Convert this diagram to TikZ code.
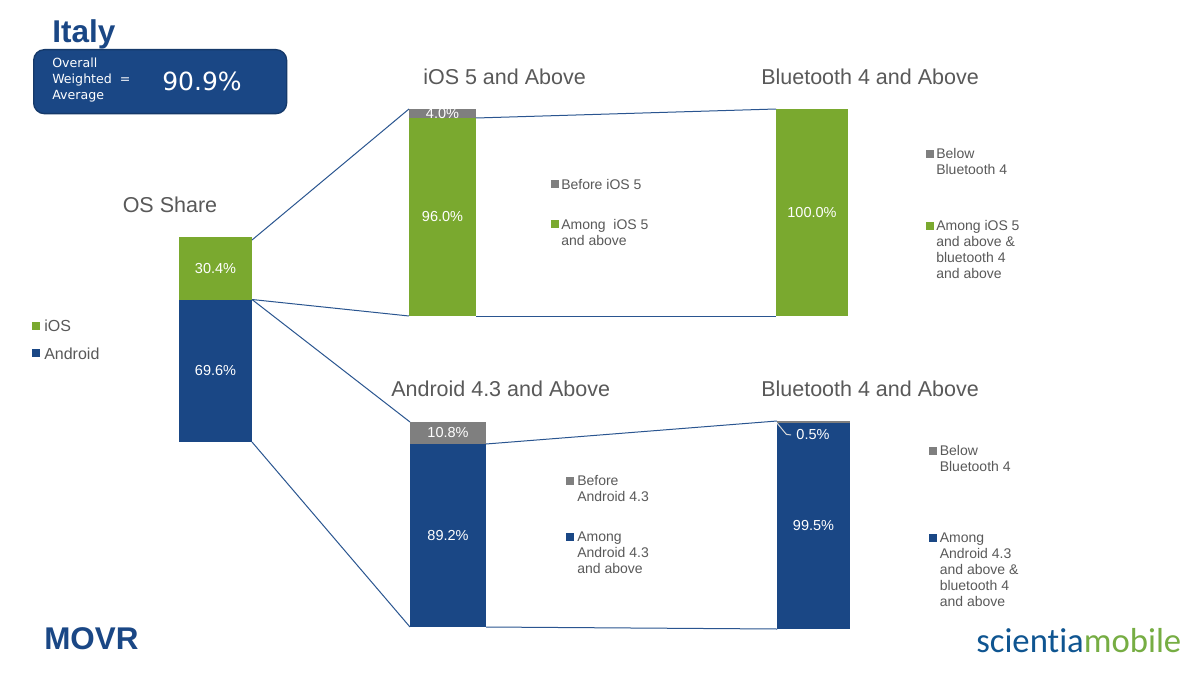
\documentclass[tikz,border=0pt]{standalone}
\usepackage{fontspec}
\setmainfont{Liberation Sans}
\newfontfamily\boxfont{DejaVu Sans}
\newfontfamily\logofont[Ligatures=NoCommon]{Carlito}
\definecolor{mblue}{HTML}{1A4785}
\definecolor{mgreen}{HTML}{7AA92F}
\definecolor{mgray}{HTML}{7F7F7F}
\definecolor{mtext}{HTML}{595959}
\definecolor{mline}{HTML}{2A5590}
\definecolor{lblue}{HTML}{0F5591}
\definecolor{lgreen}{HTML}{76AD43}
\newcommand{\px}[1]{\fontsize{\dimexpr#1pt*3/4\relax}{12pt}\selectfont}
\tikzset{
  x=0.75pt,y=-0.75pt,
  seg/.style={rectangle,draw=none,inner sep=0pt,outer sep=0pt,anchor=north west,text=white,font=\px{14.5}},
  head/.style={text=mtext,font=\px{21.5},inner sep=0pt,anchor=base west},
  leg/.style={text=mtext,font=\px{14},inner sep=0pt,anchor=north west,align=left},
  swatch/.style={rectangle,draw=none,inner sep=0pt,outer sep=0pt,minimum size=6pt*0.9,anchor=center},
  link/.style={draw=mline,line width=0.75pt},
}
\newcommand{\seg}[7]{\node[seg,fill=#2,minimum width=#5*0.75pt,minimum height=#6*0.75pt] (#1) at (#3,#4) {\raisebox{-0.75pt}{#7}};}
\begin{document}
\begin{tikzpicture}
\useasboundingbox (0,0) rectangle (1196,674);
\fill[white] (0,0) rectangle (1196,674);

% title and summary box
\node[inner sep=0pt,anchor=base west,text=mblue,font=\px{31.5}\bfseries] (title) at (52,43) {Italy};
\node[rectangle,rounded corners=8pt,draw=mblue!80!black,line width=1pt,fill=mblue,anchor=north west,minimum width=253*0.75pt,minimum height=64*0.75pt,inner sep=0pt] (box) at (33,49) {};
\node[inner sep=0pt,anchor=north west,align=left,text=white,font=\boxfont\px{12.6}] (boxl) at (52,58) {Overall\\Weighted\ \ =\\Average};
\node[inner sep=0pt,anchor=base west,text=white,font=\boxfont\px{25}] (boxv) at (162,90) {90.9\%};

% stacked bars
\seg{osi}{mgreen}{179}{237}{73}{62.5}{30.4\%}
\seg{osa}{mblue}{179}{299.5}{73}{142.5}{69.6\%}
\seg{igreen}{mgreen}{409}{118}{67}{198}{96.0\%}
\seg{igray}{mgray}{409}{109}{67}{9}{}
\node[inner sep=0pt,text=white,font=\px{14.5}] (ilabel) at (442.5,114) {4.0\%};
\seg{bi}{mgreen}{776}{109}{72}{207}{\raisebox{0.75pt}{100.0\%}}
\seg{agray}{mgray}{410}{422}{76}{22}{10.8\%}
\seg{ablue}{mblue}{410}{444}{76}{183}{89.2\%}
\seg{bablue}{mblue}{777}{423}{73}{206}{\raisebox{0pt}{99.5\%}}
\seg{bagray}{mgray}{777}{421}{73}{2}{}

% headings
\node[head] (h0) at (122.5,212) {OS Share};
\node[head] (h1) at (423,84.5) {iOS 5 and Above};
\node[head] (h2) at (761,84.5) {Bluetooth 4 and Above};
\node[head] (h3) at (391,396.5) {Android 4.3 and Above};
\node[head] (h4) at (761,396.5) {Bluetooth 4 and Above};

% connectors
\coordinate (ositop) at ([yshift=-2.25pt]osi.north east);
\draw[link] (ositop) -- (igray.north west);
\draw[link] (osa.north east) -- (igreen.south west);
\draw[link] (osa.north east) -- (agray.north west);
\draw[link] (osa.south east) -- (ablue.south west);
\draw[link] (igreen.north east) -- (bi.north west);
\draw[link] (igreen.south east) -- (bi.south west);
\draw[link] (ablue.north east) -- (bagray.north west);
\draw[link] (ablue.south east) -- (bablue.south west);

% leader for 0.5%
\node[inner sep=0pt,outer sep=4pt,anchor=center,text=white,font=\px{14.5}] (small) at (813,435) {0.5\%};
\coordinate (kink) at ([xshift=7pt,yshift=-8.5pt]bagray.south west);
\draw[draw=white!70!gray,line width=0.75pt] (bagray.south west) -- (kink) -- (small.west);

% legends
\node[swatch,fill=mgreen] (s1) at (36,326) {};
\node[leg,font=\px{16}] (l1) at (44,320) {iOS};
\node[swatch,fill=mblue] (s2) at (36,353) {};
\node[leg,font=\px{16}] (l2) at (44,347.5) {Android};

\node[swatch,fill=mgray] (s3) at (555,184) {};
\node[leg] (l3) at (561,179) {Before iOS 5};
\node[swatch,fill=mgreen] (s4) at (555,224) {};
\node[leg] (l4) at (561,219) {Among\ \ iOS 5\\and above};

\node[swatch,fill=mgray] (s5) at (930,154) {};
\node[leg] (l5) at (936,148.5) {Below\\Bluetooth 4};
\node[swatch,fill=mgreen] (s6) at (930,226) {};
\node[leg] (l6) at (936,220) {Among iOS 5\\and above \&\\bluetooth 4\\and above};

\node[swatch,fill=mgray] (s7) at (570,481) {};
\node[leg] (l7) at (577,475) {Before\\Android 4.3};
\node[swatch,fill=mblue] (s8) at (570,537) {};
\node[leg] (l8) at (577,532) {Among\\Android 4.3\\and above};

\node[swatch,fill=mgray] (s9) at (933,451) {};
\node[leg] (l9) at (939.5,445) {Below\\Bluetooth 4};
\node[swatch,fill=mblue] (s10) at (933,538) {};
\node[leg] (l10) at (939.5,532.5) {Among\\Android 4.3\\and above \&\\bluetooth 4\\and above};

% footer
\node[inner sep=0pt,anchor=base west,text=mblue,font=\px{31.4}\bfseries] (movr) at (44,649) {MOVR};
\node[inner sep=0pt,anchor=base west,font=\logofont\px{34.7}] (logo) at (976,652) {\textcolor{lblue}{scientia}\textcolor{lgreen}{mobile}};
\end{tikzpicture}
\end{document}
